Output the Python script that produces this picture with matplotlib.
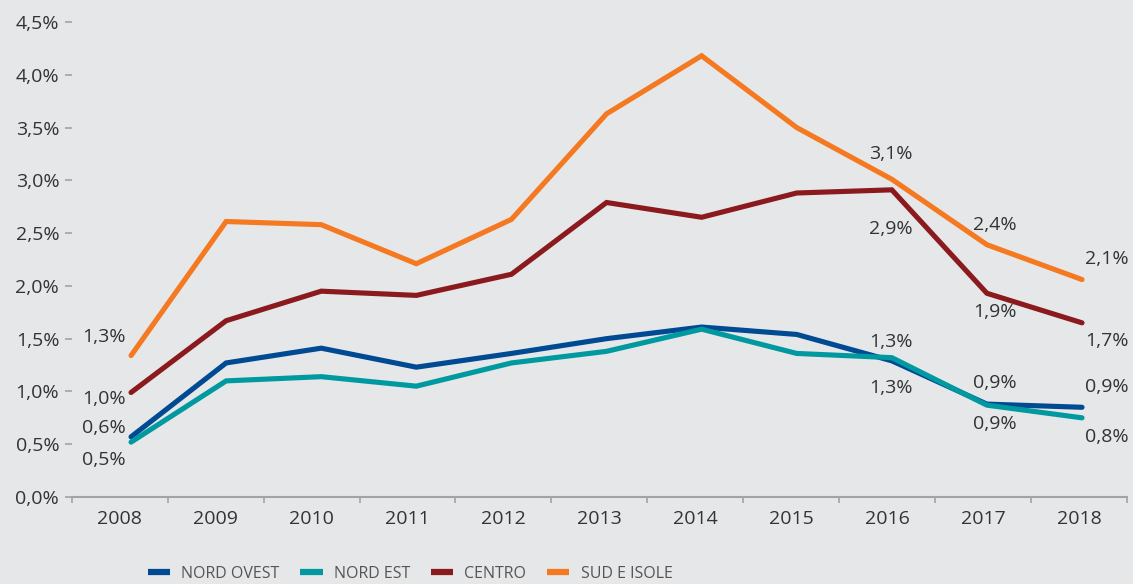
import numpy as np
import matplotlib
matplotlib.use('Agg')
import matplotlib.pyplot as plt
from matplotlib.ticker import FixedLocator, FuncFormatter, NullLocator

plt.rcParams['font.family'] = ['Open Sans', 'DejaVu Sans']

# dati (%)
anni = ['2008', '2009', '2010', '2011', '2012', '2013', '2014', '2015', '2016', '2017', '2018']
nord_ovest = [0.57, 1.27, 1.41, 1.23, 1.36, 1.50, 1.61, 1.54, 1.29, 0.88, 0.85]
nord_est = [0.52, 1.10, 1.14, 1.05, 1.27, 1.38, 1.59, 1.36, 1.32, 0.87, 0.75]
centro = [0.99, 1.67, 1.95, 1.91, 2.11, 2.79, 2.65, 2.88, 2.91, 1.93, 1.65]
sud_isole = [1.34, 2.61, 2.58, 2.21, 2.63, 3.63, 4.18, 3.50, 3.01, 2.39, 2.06]

# etichette: (serie, indice anno, testo)
etichette = [
    ('sud', 0, '1,3%'), ('centro', 0, '1,0%'), ('no', 0, '0,6%'), ('ne', 0, '0,5%'),
    ('sud', 8, '3,1%'), ('centro', 8, '2,9%'), ('no', 8, '1,3%'), ('ne', 8, '1,3%'),
    ('sud', 9, '2,4%'), ('centro', 9, '1,9%'), ('no', 9, '0,9%'), ('ne', 9, '0,9%'),
    ('sud', 10, '2,1%'), ('centro', 10, '1,7%'), ('no', 10, '0,9%'), ('ne', 10, '0,8%'),
]

serie = {
    'no': ('NORD OVEST', nord_ovest, '#004a93'),
    'ne': ('NORD EST', nord_est, '#0099a0'),
    'centro': ('CENTRO', centro, '#8b1a1f'),
    'sud': ('SUD E ISOLE', sud_isole, '#f47920'),
}

# spostamenti delle etichette in pixel (dx, dy, allineamento)
offset = {
    ('sud', 0): (-5, 19, 'right'), ('centro', 0): (-5, -7, 'right'),
    ('no', 0): (-5, 9, 'right'), ('ne', 0): (-5, -18, 'right'),
    ('sud', 8): (-1, 25, 'center'), ('centro', 8): (-1, -39, 'center'),
    ('no', 8): (-1, 19, 'center'), ('ne', 8): (-1, -30, 'center'),
    ('sud', 9): (8, 20, 'center'), ('centro', 9): (8, -19, 'center'),
    ('no', 9): (8, 21, 'center'), ('ne', 9): (8, -19, 'center'),
    ('sud', 10): (25, 21, 'center'), ('centro', 10): (25, -18, 'center'),
    ('no', 10): (25, 20, 'center'), ('ne', 10): (25, -19, 'center'),
}

bg = '#e6e7e9'
fig = plt.figure(figsize=(11.33, 5.84), dpi=100, facecolor=bg)
ax = fig.add_axes([71.7 / 1133, 1 - 497 / 584, (1127 - 71.7) / 1133, (497 - 22) / 584])
ax.set_facecolor(bg)

x = np.arange(len(anni))
for k in ['no', 'ne', 'centro', 'sud']:
    nome, val, col = serie[k]
    ax.plot(x, val, color=col, lw=3.7, label=nome, solid_capstyle='round', solid_joinstyle='miter')

for k, i, testo in etichette:
    dx, dy, ha = offset[(k, i)]
    ax.annotate(testo, (x[i], serie[k][1][i]), xytext=(dx, dy), textcoords='offset pixels',
                ha=ha, va='center', fontsize=14, color='#333333')

# le linee nel grafico originale sono un po' spostate rispetto alle categorie
ax.set_xlim(-0.624, 10.473)
ax.set_ylim(0, 4.5)
ax.xaxis.set_major_locator(NullLocator())
ax.yaxis.set_major_locator(FixedLocator(np.arange(0, 4.51, 0.5)))
ax.yaxis.set_major_formatter(FuncFormatter(lambda v, p: f'{v:.1f}%'.replace('.', ',')))

# asse delle categorie
ax2 = ax.twiny()
ax2.set_xlim(-0.5, len(anni) - 0.5)
ax2.xaxis.set_ticks_position('bottom')
ax2.xaxis.set_label_position('bottom')
ax2.set_xticks(x)
ax2.set_xticklabels(anni)
ax2.xaxis.set_minor_locator(FixedLocator(np.arange(-0.5, len(anni), 1.0)))
ax2.tick_params(axis='x', which='major', length=0, pad=9, labelsize=14, labelcolor='#333333')
ax2.tick_params(axis='x', which='minor', length=4, width=1.2, color='#a3a3a3')

for a in (ax, ax2):
    for s in ['top', 'right', 'left']:
        a.spines[s].set_visible(False)
ax.spines['bottom'].set_visible(False)
ax2.spines['bottom'].set_color('#a3a3a3')
ax2.spines['bottom'].set_linewidth(1.5)

ax.tick_params(axis='y', length=5, width=1.2, color='#a3a3a3', pad=4, labelsize=14, labelcolor='#333333')

h, l = ax.get_legend_handles_labels()
leg = fig.legend(h, l, loc='center', bbox_to_anchor=(410 / 1133, 1 - 574 / 584), ncol=4, frameon=False,
                 fontsize=11.5, labelcolor='#555555', handlelength=1.4, handletextpad=0.7,
                 columnspacing=1.3)
for ln in leg.get_lines():
    ln.set_linewidth(4.5)
    ln.set_solid_capstyle('butt')

fig.savefig('out.png', dpi=100, facecolor=bg)
